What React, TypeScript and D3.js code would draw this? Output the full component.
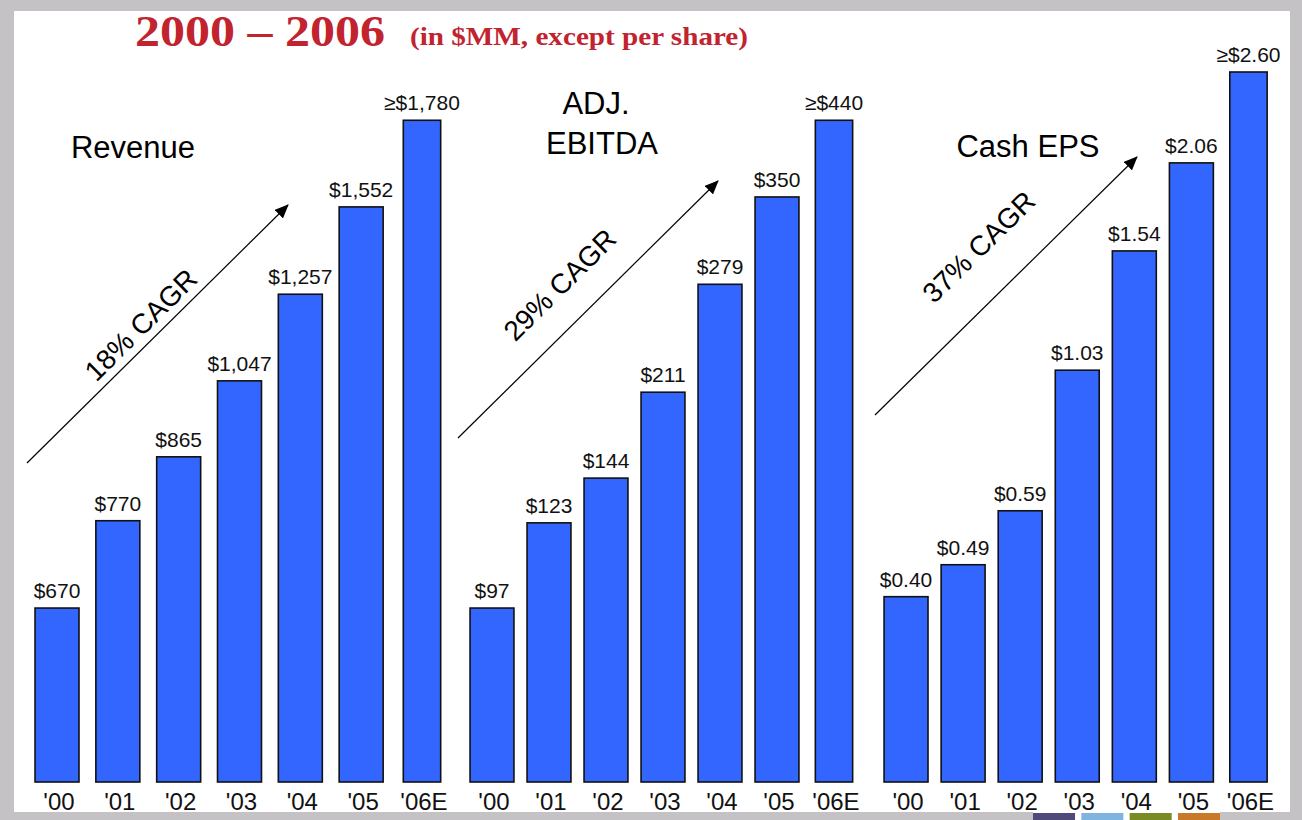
import * as d3 from "d3";

const years = ["'00", "'01", "'02", "'03", "'04", "'05", "'06E"];

// values printed above the bars
const revenue = [670, 770, 865, 1047, 1257, 1552, 1780];
const ebitda = [97, 123, 144, 211, 279, 350, 440];
const cashEps = [0.4, 0.49, 0.59, 1.03, 1.54, 2.06, 2.6];

// the source slide draws the bars at stepped heights that are not
// proportional to the values, so the drawn heights are read separately
// (percent of the tallest bar on the slide)
const revenueHeight = [24.5, 36.8, 45.8, 56.5, 68.7, 81.0, 93.2];
const ebitdaHeight = [24.5, 36.5, 42.8, 54.9, 70.1, 82.4, 93.2];
const cashEpsHeight = [26.1, 30.6, 38.2, 58.0, 74.8, 87.2, 100];

const W = 1302;
const H = 820;
const BASE = 782;
const TOP = 72;
const BLUE = "#3366ff";
const RED = "#c1232f";
const GRAY = "#c5c2c6";
const SANS = "'Liberation Sans', Arial, sans-serif";

const money = d3.format("$,");
const eps = d3.format("$.2f");

const panels = [
  {
    values: revenue,
    heights: revenueHeight,
    fmt: money,
    range: [26.6, 452.4],
    pad: 0.277,
    titles: [{ text: "Revenue", x: 133, y: 158 }],
    arrow: [27, 463, 288, 205],
    cagr: { text: "18% CAGR", x: 141, y: 325 },
  },
  {
    values: ebitda,
    heights: ebitdaHeight,
    fmt: money,
    range: [463.5, 862.5],
    pad: 0.23,
    titles: [
      { text: "ADJ.", x: 596, y: 114 },
      { text: "EBITDA", x: 602, y: 154 },
    ],
    arrow: [458, 438, 718, 181],
    cagr: { text: "29% CAGR", x: 560, y: 285 },
  },
  {
    values: cashEps,
    heights: cashEpsHeight,
    fmt: eps,
    range: [877.5, 1277],
    pad: 0.23,
    titles: [{ text: "Cash EPS", x: 1028, y: 157 }],
    arrow: [875, 415, 1137, 157],
    cagr: { text: "37% CAGR", x: 979, y: 247 },
  },
];

const swatches = ["#4f4a7a", "#80b4e0", "#7a8a24", "#c87a2a"];

export default function App() {
  const y = d3.scaleLinear().domain([0, 100]).range([BASE, TOP]);
  const sw = d3.scaleBand().domain(swatches).range([1033, 1220]).paddingInner(0.13);

  return (
    <svg
      width={W}
      height={H}
      style={{ position: "absolute", left: 0, top: 0, background: "#fff" }}
    >
      <defs>
        <marker
          id="head"
          markerUnits="userSpaceOnUse"
          viewBox="0 0 14 12"
          refX="13"
          refY="6"
          markerWidth="14"
          markerHeight="12"
          orient="auto"
        >
          <path d="M0,0 L14,6 L0,12 Z" fill="#000" />
        </marker>
      </defs>

      {/* grey frame */}
      <rect x={0} y={0} width={W} height={H} fill={GRAY} />
      <rect x={14} y={11} width={1276} height={801} fill="#fff" />
      <rect x={1033} y={812} width={187} height={8} fill="#fff" />
      {swatches.map(c => (
        <rect key={c} x={sw(c)} y={813} width={sw.bandwidth()} height={7} fill={c} />
      ))}

      <text
        x={135}
        y={46}
        fontFamily="'Liberation Serif', 'Times New Roman', serif"
        fontWeight="bold"
        fontSize={45}
        fill={RED}
        textLength={250}
        lengthAdjust="spacingAndGlyphs"
      >
        2000 – 2006
      </text>
      <text
        x={410}
        y={45}
        fontFamily="'Liberation Serif', 'Times New Roman', serif"
        fontWeight="bold"
        fontSize={26}
        fill={RED}
        textLength={338}
        lengthAdjust="spacingAndGlyphs"
      >
        (in $MM, except per share)
      </text>

      {panels.map((p, pi) => {
        const x = d3
          .scaleBand()
          .domain(years)
          .range(p.range)
          .paddingInner(p.pad)
          .paddingOuter(p.pad / 2);
        const bw = x.bandwidth();
        const [x1, y1, x2, y2] = p.arrow;
        const angle = (Math.atan2(y2 - y1, x2 - x1) * 180) / Math.PI;
        return (
          <g key={pi} fontFamily={SANS}>
            {years.map((yr, i) => {
              const w = i === years.length - 1 ? bw * 0.85 : bw;
              const cx = x(yr)! + bw / 2;
              const top = y(p.heights[i]);
              const label = (i === years.length - 1 ? "≥" : "") + p.fmt(p.values[i]);
              return (
                <g key={yr}>
                  <rect
                    x={cx - w / 2}
                    y={top}
                    width={w}
                    height={BASE - top}
                    fill={BLUE}
                    stroke="#111"
                    strokeWidth={1.6}
                  />
                  <text x={cx} y={top - 10} textAnchor="middle" fontSize={21} fill="#111">
                    {label}
                  </text>
                  <text x={cx + 2} y={810} textAnchor="middle" fontSize={24} fill="#111">
                    {yr}
                  </text>
                </g>
              );
            })}
            {p.titles.map(t => (
              <text key={t.text} x={t.x} y={t.y} textAnchor="middle" fontSize={31} fill="#000">
                {t.text}
              </text>
            ))}
            <line
              x1={x1}
              y1={y1}
              x2={x2}
              y2={y2}
              stroke="#000"
              strokeWidth={1.2}
              markerEnd="url(#head)"
            />
            <text
              transform={`translate(${p.cagr.x},${p.cagr.y}) rotate(${angle})`}
              textAnchor="middle"
              dominantBaseline="central"
              fontSize={28}
              fill="#000"
            >
              {p.cagr.text}
            </text>
          </g>
        );
      })}
    </svg>
  );
}
